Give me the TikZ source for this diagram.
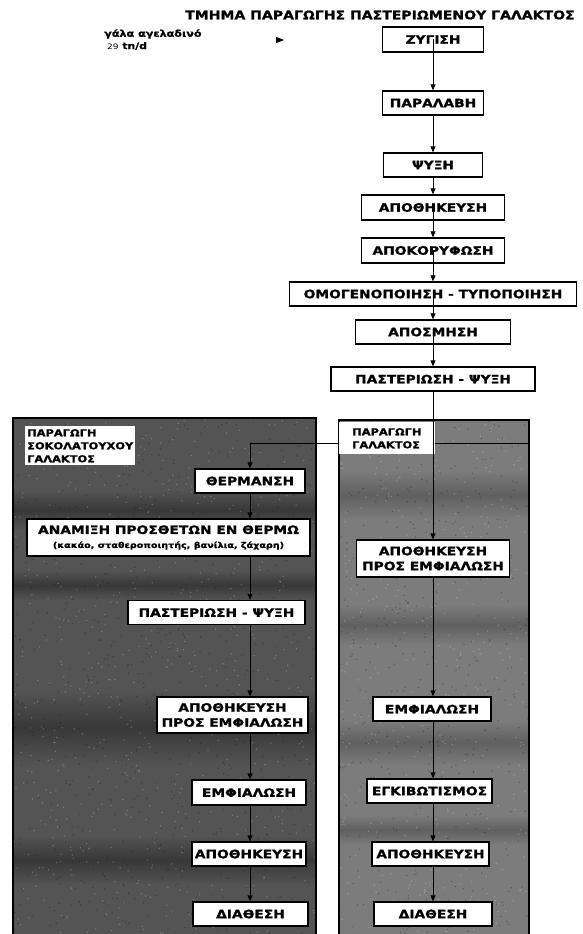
\documentclass[tikz,border=0pt]{standalone}
\usepackage{fontspec}
\newfontfamily\bx{DejaVu Sans}[FakeStretch=1.2, BoldFeatures={FakeBold=1.2}]
\usetikzlibrary{arrows.meta}
\definecolor{panL}{RGB}{84,84,84}
\definecolor{panLd}{RGB}{56,56,56}
\definecolor{panR}{RGB}{124,124,124}
\definecolor{panRd}{RGB}{96,96,96}
\begin{document}
\begin{tikzpicture}[x=1pt,y=-1pt,
  box/.style={draw=black, line width=1.3pt, fill=white, inner sep=0pt, align=center,
    font=\bx\bfseries\fontsize{11.5}{15}\selectfont},
  lbl/.style={fill=white, align=left, anchor=north west,
    font=\bx\bfseries\fontsize{9.5}{13}\selectfont},
  flow/.style={line width=0.8pt, -{Triangle[length=6pt,width=5pt]}},
  plain/.style={line width=0.8pt},
  panel/.style={line width=1.5pt}]
\useasboundingbox[fill=white] (0,0) rectangle (582,934);
% panels
\fill[panL] (13,418) rectangle (316,934);
\fill[panR] (339,420) rectangle (529,934);
\shade[top color=panL, bottom color=panL, middle color=panLd] (13,490) rectangle (316,530);
\shade[top color=panL, bottom color=panL, middle color=panLd] (13,570) rectangle (316,600);
\shade[top color=panL, bottom color=panL, middle color=panLd] (13,690) rectangle (316,765);
\shade[top color=panL, bottom color=panL, middle color=panLd] (13,835) rectangle (316,885);
\shade[top color=panR, bottom color=panR, middle color=panRd] (339,470) rectangle (529,520);
\shade[top color=panR, bottom color=panR, middle color=panRd] (339,605) rectangle (529,645);
\shade[top color=panR, bottom color=panR, middle color=panRd] (339,720) rectangle (529,765);
\shade[top color=panR, bottom color=panR, middle color=panRd] (339,815) rectangle (529,845);
\pgfmathsetseed{7}
\foreach \i in {1,...,700}{
  \pgfmathsetmacro\rx{14+301*rnd}\pgfmathsetmacro\ry{419+514*rnd}
  \fill[white,opacity=0.22] (\rx,\ry) circle (0.8pt);}
\foreach \i in {1,...,700}{
  \pgfmathsetmacro\rx{14+301*rnd}\pgfmathsetmacro\ry{419+514*rnd}
  \fill[black,opacity=0.25] (\rx,\ry) circle (0.8pt);}
\foreach \i in {1,...,450}{
  \pgfmathsetmacro\rx{340+188*rnd}\pgfmathsetmacro\ry{421+512*rnd}
  \fill[white,opacity=0.22] (\rx,\ry) circle (0.8pt);}
\foreach \i in {1,...,450}{
  \pgfmathsetmacro\rx{340+188*rnd}\pgfmathsetmacro\ry{421+512*rnd}
  \fill[black,opacity=0.25] (\rx,\ry) circle (0.8pt);}
\draw[panel] (13,934) -- (13,418) -- (316,418) -- (316,934);
\draw[panel] (339,934) -- (339,420) -- (529,420) -- (529,934);
% title and input
\node[anchor=west, inner sep=0pt, font=\bx\bfseries\fontsize{11.7}{14}\selectfont] (title) at (185,15)
  {ΤΜΗΜΑ ΠΑΡΑΓΩΓΗΣ ΠΑΣΤΕΡΙΩΜΕΝΟΥ ΓΑΛΑΚΤΟΣ};
\node[anchor=west, inner sep=0pt, font=\bx\bfseries\fontsize{9.3}{11}\selectfont] (milk) at (104,34) {γάλα αγελαδινό};
\node[anchor=west, inner sep=0pt, font=\bx\bfseries\fontsize{9}{11}\selectfont] (rate) at (107,46)
  {{\mdseries\fontsize{7.5}{8}\selectfont 29} tn/d};
\coordinate (inA) at (276,40);
\coordinate (inB) at (284,40);
\draw[line width=0.8pt, -{Triangle[length=8pt,width=6pt]}] (inA) -- (inB);
% column reference
\coordinate (colR) at (433,0);
\coordinate (colL) at (250,0);
% main column
\node[box, minimum width=101pt, minimum height=25pt] (zyg) at (433,39.5) {ΖΥΓΙΣΗ};
\node[box, minimum width=101pt, minimum height=24pt] (par) at (433,103) {ΠΑΡΑΛΑΒΗ};
\node[box, minimum width=99pt, minimum height=24pt] (psy) at (433,165) {ΨΥΞΗ};
\node[box, minimum width=143pt, minimum height=25pt] (apo1) at (433,207.5) {ΑΠΟΘΗΚΕΥΣΗ};
\node[box, minimum width=143pt, minimum height=25pt] (apok) at (433,250.5) {ΑΠΟΚΟΡΥΦΩΣΗ};
\node[box, minimum width=287pt, minimum height=24pt] (omo) at (433,294) {ΟΜΟΓΕΝΟΠΟΙΗΣΗ - ΤΥΠΟΠΟΙΗΣΗ};
\node[box, minimum width=155pt, minimum height=24pt] (aposm) at (433,332) {ΑΠΟΣΜΗΣΗ};
\node[box, minimum width=204pt, minimum height=24pt] (past) at (433,379) {ΠΑΣΤΕΡΙΩΣΗ - ΨΥΞΗ};
\draw[flow] (zyg.center) -- (par.north);
\draw[flow] (par.south) -- (psy.north);
\draw[flow] (psy.south) -- (apo1.north);
\draw[flow] (apo1.center) -- (apok.north);
\draw[flow] (apok.center) -- (omo.north);
\draw[flow] (omo.center) -- (aposm.north);
\draw[flow] (aposm.center) -- (past.north);
% branch
\coordinate (br) at (433,443);
\coordinate (brE) at (529,443);
\coordinate (brW) at (250,443);
\draw[plain] (brE) -- (brW);
\node[lbl, inner xsep=2pt, inner ysep=3pt] (lblL) at (25,426) {ΠΑΡΑΓΩΓΗ\\ΣΟΚΟΛΑΤΟΥΧΟΥ\\ΓΑΛΑΚΤΟΣ};
\node[lbl, inner xsep=13pt, inner ysep=6pt] (lblR) at (339,422) {ΠΑΡΑΓΩΓΗ\\ΓΑΛΑΚΤΟΣ};
% right column
\node[box, minimum width=153pt, minimum height=37pt] (apoR) at (433,558.5) {ΑΠΟΘΗΚΕΥΣΗ\\ΠΡΟΣ ΕΜΦΙΑΛΩΣΗ};
\node[box, minimum width=118pt, minimum height=24pt] (emfR) at (432,709) {ΕΜΦΙΑΛΩΣΗ};
\node[box, minimum width=125pt, minimum height=24pt] (egk) at (429.5,791) {ΕΓΚΙΒΩΤΙΣΜΟΣ};
\node[box, minimum width=117pt, minimum height=24pt] (apoR2) at (430.5,854) {ΑΠΟΘΗΚΕΥΣΗ};
\node[box, minimum width=118pt, minimum height=24pt] (diaR) at (433,914) {ΔΙΑΘΕΣΗ};
\draw[plain] (past.south) -- (br);
\draw[flow] (br) -- (apoR.north);
\draw[flow] (apoR.south) -- (emfR.north -| colR);
\draw[flow] (emfR.south -| colR) -- (egk.north -| colR);
\draw[flow] (egk.south -| colR) -- (apoR2.north -| colR);
\draw[flow] (apoR2.south -| colR) -- (diaR.north);
% left column
\node[box, minimum width=110pt, minimum height=24pt] (therm) at (250,481) {ΘΕΡΜΑΝΣΗ};
\node[box, minimum width=283pt, minimum height=37pt] (anam) at (168.5,537.5)
  {ΑΝΑΜΙΞΗ ΠΡΟΣΘΕΤΩΝ ΕΝ ΘΕΡΜΩ\\[-1pt]{\fontsize{8}{10}\selectfont (κακάο, σταθεροποιητής, βανίλια, ζάχαρη)}};
\node[box, minimum width=177pt, minimum height=24pt] (pastL) at (216.5,612.5) {ΠΑΣΤΕΡΙΩΣΗ - ΨΥΞΗ};
\node[box, minimum width=151pt, minimum height=36pt] (apoL) at (232.5,715) {ΑΠΟΘΗΚΕΥΣΗ\\ΠΡΟΣ ΕΜΦΙΑΛΩΣΗ};
\node[box, minimum width=114pt, minimum height=25pt] (emfL) at (249,792.5) {ΕΜΦΙΑΛΩΣΗ};
\node[box, minimum width=114pt, minimum height=24pt] (apoL2) at (249,854) {ΑΠΟΘΗΚΕΥΣΗ};
\node[box, minimum width=115pt, minimum height=24pt] (diaL) at (250.5,914) {ΔΙΑΘΕΣΗ};
\draw[flow] (brW) -- (therm.north);
\draw[flow] (therm.south) -- (anam.north -| colL);
\draw[flow] (anam.south -| colL) -- (pastL.north -| colL);
\draw[flow] (pastL.south -| colL) -- (apoL.north -| colL);
\draw[flow] (apoL.south -| colL) -- (emfL.north -| colL);
\draw[flow] (emfL.south -| colL) -- (apoL2.north -| colL);
\draw[flow] (apoL2.south -| colL) -- (diaL.north -| colL);
\end{tikzpicture}
\end{document}
